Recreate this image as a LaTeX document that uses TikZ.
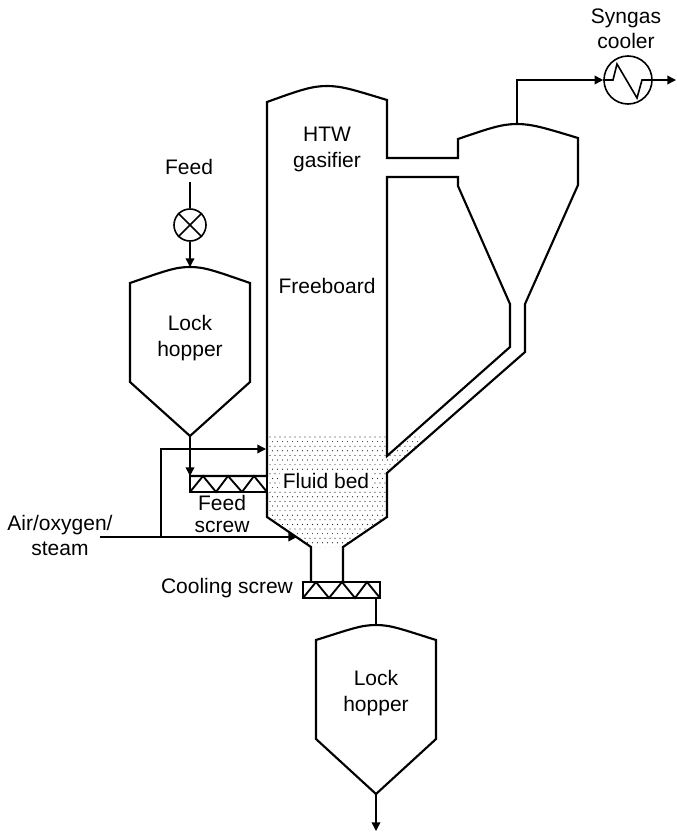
\documentclass[tikz,border=0pt]{standalone}
\usepackage{fontspec}
\setmainfont{Liberation Sans}
\usetikzlibrary{arrows.meta}
\tikzset{
  wall/.style={line width=1.6pt,line join=miter},
  flow/.style={line width=1pt,-{Triangle[length=6.5pt,width=6.5pt]}},
  plainflow/.style={line width=1pt},
  lbl/.style={inner sep=0pt,align=center,font=\fontsize{15.75}{18.9}\selectfont},
  ring/.style={circle,draw,line width=1.2pt,inner sep=0pt},
  bedpt/.style={fill=black!85}
}
\begin{document}
\begin{tikzpicture}[x=0.75pt,y=-0.75pt]
\useasboundingbox (0,0) rectangle (676,832);
% stippled fluid bed
\begin{scope}
\clip (268,436) -- (386,436) -- (386,456) -- (411,435) -- (420,435) -- (420,443) -- (387,473) -- (387,517) -- (343,547) -- (311,547) -- (267,517) -- cycle;
\foreach \r in {0,...,25}{
  \foreach \c in {0,...,31}{
    \fill[bedpt] ({270+\c*5+mod(\r,2)*2.5},{437+\r*4.6}) circle (0.6);
  }
}
\end{scope}
% named points
\coordinate (cycTop) at (517,124);
\coordinate (feedTop) at (190,182);
\coordinate (hop1Top) at (190,267);
\coordinate (hop1Tip) at (190,436);
\coordinate (screw1Top) at (190,476);
\coordinate (bedIn) at (266,449);
\coordinate (airStart) at (100,537);
\coordinate (airIn) at (297,537);
\coordinate (airJoin) at (161,537);
\coordinate (screw2Out) at (376,598);
\coordinate (hop2Top) at (376,625);
\coordinate (hop2Tip) at (376,794);
\coordinate (outEnd) at (376,831);
\coordinate (synEnd) at (676,80);
% gasifier + cyclone outer
\draw[wall] (190,476) -- (267,476) -- (267,102) .. controls (300,90) and (312,86) .. (327,86) .. controls (342,86) and (354,90) .. (387,100) -- (387,158) -- (458,158) -- (458,139) .. controls (490,128) and (502,124) .. (517,124) .. controls (532,124) and (545,128) .. (578,138) -- (578,185) -- (525,304) -- (525,352) -- (387,473) -- (387,517) -- (343,547) -- (343,582);
\draw[wall] (267,492) -- (267,517) -- (311,547) -- (311,582);
% cyclone inner / dipleg
\draw[wall] (387,177) -- (458,177) -- (458,186) -- (510,304) -- (510,347) -- (387,456) -- cycle;
% feed screw
\draw[line width=1.4pt] (190,476) rectangle (267,492);
\draw[line width=1.4pt] (190,492) -- (203,476) -- (216,492) -- (228,476) -- (242,492) -- (254,476) -- (267,492);
% cooling screw
\draw[line width=1.4pt] (303,582) rectangle (380,598);
\draw[line width=1.4pt] (303,598) -- (316,582) -- (329,598) -- (342,582) -- (355,598) -- (367,582) -- (380,598);
% lock hoppers
\draw[wall] (130,283) .. controls (165,271) and (175,267) .. (190,267) .. controls (205,267) and (215,271) .. (250,283) -- (250,382) -- (190,436) -- (130,382) -- cycle;
\draw[wall] (316,640) .. controls (351,629) and (361,625) .. (376,625) .. controls (391,625) and (401,629) .. (436,640) -- (436,739) -- (376,794) -- (316,739) -- cycle;
% valve and cooler
\node[ring,minimum size=24pt] (valve) at (190,225) {};
\draw[line width=1.2pt] (valve.north west) -- (valve.south east) (valve.north east) -- (valve.south west);
\node[ring,minimum size=36pt] (cooler) at (628,80) {};
\draw[line width=1.2pt,line join=miter] (cooler.west) -- (613,80) -- (617,64) -- (637,98) -- (642,80) -- (cooler.east);
% connectors
\draw[plainflow] (feedTop) -- (valve.north);
\draw[flow] (valve.south) -- (hop1Top);
\draw[flow] (hop1Tip) -- (screw1Top);
\draw[line width=1.2pt,-{Triangle[length=6.5pt,width=6.5pt]}] (cycTop) |- (cooler.west);
\draw[flow] (cooler.east) -- (synEnd);
\draw[flow] (airStart) -- (airIn);
\draw[flow] (airJoin) |- (bedIn);
\draw[line width=1.2pt] (screw2Out) -- (hop2Top);
\draw[flow] (hop2Tip) -- (outEnd);
% labels
\node[lbl] (tSyn) at (626,29) {Syngas\\cooler};
\node[lbl] (tFeed) at (189,167) {Feed};
\node[lbl] (tHtw) at (327,149.5) {HTW\\gasifier};
\node[lbl] (tFree) at (327,286) {Freeboard};
\node[lbl] (tLock1) at (190,338) {Lock\\hopper};
\node[lbl,fill=white,inner xsep=2pt,inner ysep=1pt] (tBed) at (326,481) {Fluid bed};
\node[lbl,font=\fontsize{15.75}{16.5}\selectfont] (tScrew) at (222,514) {Feed\\screw};
\node[lbl] (tCool) at (227,588) {Cooling screw};
\node[lbl] (tAir) at (60,535.5) {Air/oxygen/\\steam};
\node[lbl] (tLock2) at (376,693) {Lock\\hopper};
\end{tikzpicture}
\end{document}
